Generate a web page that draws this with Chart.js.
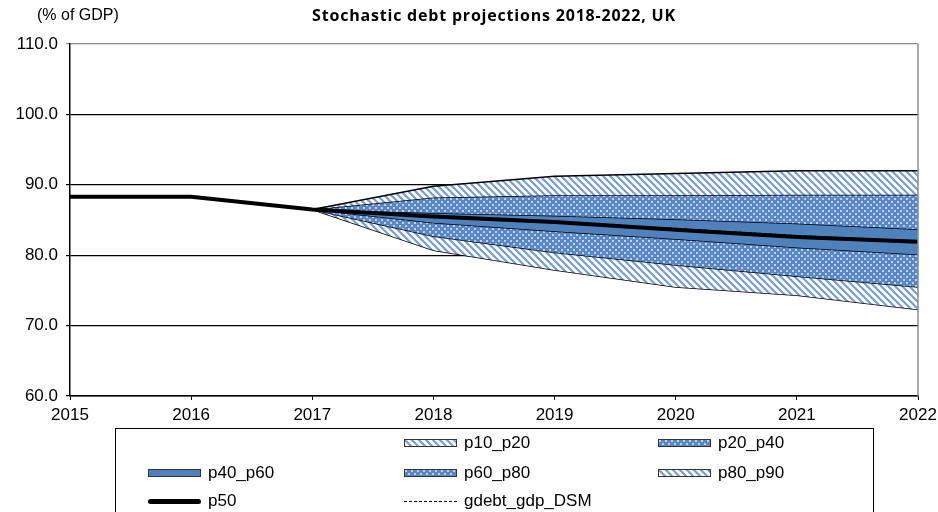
<!DOCTYPE html>
<html>
<head>
<meta charset="utf-8">
<script src="https://cdn.jsdelivr.net/npm/chart.js@4.4.0/dist/chart.umd.min.js"></script>
<style>
  body { margin: 0; background: #fff; font-family: "Liberation Sans", Arial, sans-serif; }
  #wrap { position: relative; width: 938px; height: 512px; overflow: hidden; }
  #myChart { position: absolute; left: 0; top: 0; }
  .title { position: absolute; top: 4px; left: 0; width: 988px; text-align: center;
           font: bold 16px "Open Sans", Lato, sans-serif; letter-spacing: 0.8px; color: #000; }
  .unit { position: absolute; top: 6px; left: 37px; font-size: 16px; color: #000; }
  .legend { position: absolute; left: 115px; top: 428px; width: 759px; height: 100px;
            border: 1px solid #000; box-sizing: border-box; }
  .item { position: absolute; height: 20px; font-size: 17px; line-height: 20px; }
  .sw { position: absolute; top: 6px; width: 53px; height: 8px; border: 1px solid #333; box-sizing: border-box; }
  .txt { position: absolute; top: 0; white-space: nowrap; }
</style>
</head>
<body>
<div id="wrap">
  <canvas id="myChart" width="938" height="512"></canvas>
  <div class="unit">(% of GDP)</div>
  <div class="title">Stochastic debt projections 2018-2022, UK</div>
  <div class="legend" id="legend"></div>
</div>
<script>
// years on the x axis
const years = ['2015', '2016', '2017', '2018', '2019', '2020', '2021', '2022'];

// percentiles, % of GDP (projection starts in 2017)
const p10 = [null, null, 86.5, 80.7, 77.9, 75.5, 74.3, 72.3];
const p20 = [null, null, 86.5, 82.7, 80.4, 78.6, 77.0, 75.5];
const p40 = [null, null, 86.5, 84.6, 83.4, 82.3, 81.1, 80.1];
const p50 = [88.3, 88.3, 86.5, 85.5, 84.7, 83.6, 82.6, 81.9];
const p60 = [null, null, 86.5, 86.0, 85.6, 85.1, 84.5, 83.7];
const p80 = [null, null, 86.5, 88.2, 88.5, 88.5, 88.6, 88.6];
const p90 = [null, null, 86.5, 89.8, 91.2, 91.6, 92.0, 92.0];
const gdebt = [88.3, 88.3, 86.5, 85.6, 84.8, 83.8, 82.8, 82.0];

const yTicks = [60, 70, 80, 90, 100, 110];

const blue = '#4f81bd';

// pattern tiles
function stripeTile() {
  const c = document.createElement('canvas');
  c.width = 7; c.height = 7;
  const g = c.getContext('2d');
  g.fillStyle = '#fff';
  g.fillRect(0, 0, 7, 7);
  g.strokeStyle = '#779dd2';
  g.lineWidth = 2.2;
  g.beginPath();
  g.moveTo(-2, -2); g.lineTo(9, 9);
  g.moveTo(-9, -2); g.lineTo(2, 9);
  g.moveTo(5, -2); g.lineTo(16, 9);
  g.stroke();
  return c;
}
function dotTile() {
  const c = document.createElement('canvas');
  c.width = 6; c.height = 6;
  const g = c.getContext('2d');
  g.fillStyle = '#5a88c7';
  g.fillRect(0, 0, 6, 6);
  g.fillStyle = '#bfd1ec';
  g.fillRect(0, 0, 2, 2);
  g.fillRect(3, 3, 2, 2);
  return c;
}

const sTile = stripeTile();
const dTile = dotTile();
const ctx = document.getElementById('myChart');
const c2d = ctx.getContext('2d');
const stripes = c2d.createPattern(sTile, 'repeat');
const dots = c2d.createPattern(dTile, 'repeat');

function band(label, data, bg, order) {
  return {
    label: label, data: data, fill: '-1', backgroundColor: bg,
    borderColor: '#000', borderWidth: 1.5, pointRadius: 0, tension: 0, order: order
  };
}

const rightBorder = {
  id: 'rightBorder',
  afterDraw(chart) {
    const a = chart.chartArea;
    const g = chart.ctx;
    g.save();
    g.strokeStyle = '#8c8c8c';
    g.lineWidth = 1.5;
    g.beginPath();
    g.moveTo(a.right, a.top);
    g.lineTo(a.right, a.bottom);
    g.stroke();
    g.restore();
  }
};

new Chart(ctx, {
  type: 'line',
  data: {
    labels: years,
    datasets: [
      { label: 'p10', data: p10, fill: false, borderColor: '#000', borderWidth: 1.5, pointRadius: 0, order: 8 },
      band('p10_p20', p20, stripes, 7),
      band('p20_p40', p40, dots, 6),
      band('p40_p60', p60, blue, 5),
      band('p60_p80', p80, dots, 4),
      band('p80_p90', p90, stripes, 3),
      { label: 'p50', data: p50, fill: false, borderColor: '#000', borderWidth: 4, pointRadius: 0, order: 1 },
      { label: 'gdebt_gdp_DSM', data: gdebt, fill: false, borderColor: '#000', borderWidth: 1,
        borderDash: [3, 2], pointRadius: 0, order: 0 }
    ]
  },
  options: {
    responsive: false,
    animation: false,
    layout: { padding: { top: 44, right: 0, left: 0, bottom: 0 } },
    plugins: { legend: { display: false }, tooltip: { enabled: false } },
    scales: {
      x: {
        type: 'category',
        offset: false,
        grid: { display: true, drawOnChartArea: false, color: '#000', tickLength: 4 },
        border: { color: '#000', width: 1.5 },
        ticks: { color: '#000', font: { family: 'Liberation Sans', size: 17 }, padding: 5, maxRotation: 0 },
        afterFit(scale) {
          scale.height = 116;
          scale.paddingRight = 20;
          scale.paddingLeft = 0;
        }
      },
      y: {
        min: 60, max: 110,
        afterBuildTicks(scale) { scale.ticks = yTicks.map(v => ({ value: v })); },
        grid: {
          color: c => (c.tick && c.tick.value === 110) ? '#8c8c8c' : '#000',
          lineWidth: 1.2, tickLength: 4
        },
        border: { color: '#000', width: 1.5 },
        ticks: {
          color: '#000', font: { family: 'Liberation Sans', size: 17 }, padding: 8,
          callback: v => Number(v).toFixed(1)
        },
        afterFit(scale) { scale.width = 70; }
      }
    }
  },
  plugins: [rightBorder]
});

// legend laid out like the Excel one: 3 columns, first slot empty
const legend = document.getElementById('legend');
const cols = [32, 288, 542];
const rows = [4, 34, 62];
const sUrl = 'url(' + sTile.toDataURL() + ')';
const dUrl = 'url(' + dTile.toDataURL() + ')';
const items = [
  { t: 'p10_p20', c: 1, r: 0, kind: 'fill', bg: sUrl },
  { t: 'p20_p40', c: 2, r: 0, kind: 'fill', bg: dUrl },
  { t: 'p40_p60', c: 0, r: 1, kind: 'fill', bg: blue },
  { t: 'p60_p80', c: 1, r: 1, kind: 'fill', bg: dUrl },
  { t: 'p80_p90', c: 2, r: 1, kind: 'fill', bg: sUrl },
  { t: 'p50', c: 0, r: 2, kind: 'thick' },
  { t: 'gdebt_gdp_DSM', c: 1, r: 2, kind: 'dash' }
];
items.forEach(it => {
  const d = document.createElement('div');
  d.className = 'item';
  d.style.left = cols[it.c] + 'px';
  d.style.top = rows[it.r] + 'px';
  const sw = document.createElement('div');
  sw.className = 'sw';
  if (it.kind === 'fill') {
    sw.style.background = it.bg;
  } else if (it.kind === 'thick') {
    sw.style.border = 'none';
    sw.style.height = '5px';
    sw.style.top = '8px';
    sw.style.background = '#000';
    sw.style.borderRadius = '3px';
  } else {
    sw.style.border = 'none';
    sw.style.borderTop = '1px dashed #000';
    sw.style.height = '0';
    sw.style.top = '10px';
  }
  const tx = document.createElement('span');
  tx.className = 'txt';
  tx.style.left = '60px';
  tx.textContent = it.t;
  d.appendChild(sw);
  d.appendChild(tx);
  legend.appendChild(d);
});
</script>
</body>
</html>
